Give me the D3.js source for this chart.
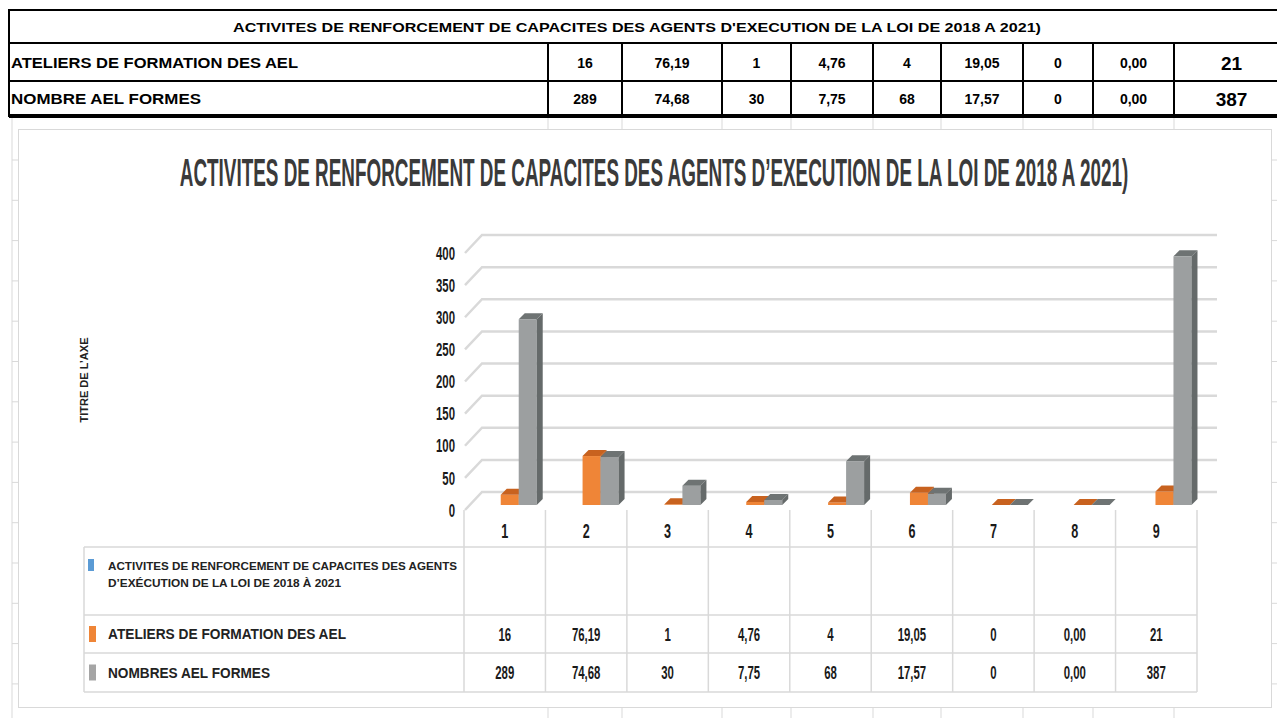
<!DOCTYPE html>
<html>
<head>
<meta charset="utf-8">
<script src="https://cdn.jsdelivr.net/npm/d3@7"></script>
<style>
  body { margin: 0; background: #fff; }
  svg { display: block; }
</style>
</head>
<body>
<div id="chart"></div>
<script>
// ---- data ----
const categories = ["1", "2", "3", "4", "5", "6", "7", "8", "9"];
const ateliers = [16, 76.19, 1, 4.76, 4, 19.05, 0, 0, 21];
const formes = [289, 74.68, 30, 7.75, 68, 17.57, 0, 0, 387];
const yTicks = [0, 50, 100, 150, 200, 250, 300, 350, 400];
const tableTitle = "ACTIVITES DE RENFORCEMENT DE CAPACITES DES AGENTS D'EXECUTION DE LA LOI DE 2018 A 2021)";
const chartTitle = "ACTIVITES DE RENFORCEMENT DE CAPACITES DES AGENTS D\u2019EXECUTION DE LA LOI DE 2018 A 2021)";
const tableRowLabels = ["ATELIERS DE FORMATION DES AEL", "NOMBRE AEL FORMES"];
const legendLabels = [
  ["ACTIVITES DE RENFORCEMENT DE CAPACITES DES AGENTS", "D\u2019EX\u00c9CUTION DE LA LOI DE 2018 \u00c0 2021"],
  ["ATELIERS DE FORMATION DES AEL"],
  ["NOMBRES AEL FORMES"]
];
const axisTitle = "TITRE DE L\u2019AXE";

// format like the sheet: counts as integers, percentages with 2 decimals
const fmt = (v, i) => i % 2 ? v.toFixed(2).replace(".", ",") : String(v);

const W = 1277, H = 718;
const svg = d3.select("#chart").append("svg").attr("width", W).attr("height", H);
const grid = "#d9d9d9";
const narrow = "'Liberation Sans', Arial, sans-serif";

// ---- spreadsheet background ----
const sheetCols = [548, 622, 722, 791, 873, 941, 1023, 1093, 1174];
sheetCols.forEach(x => {
  svg.append("line").attr("x1", x).attr("x2", x).attr("y1", 117).attr("y2", 129).attr("stroke", grid);
  svg.append("line").attr("x1", x).attr("x2", x).attr("y1", 708).attr("y2", H).attr("stroke", grid);
});
svg.append("line").attr("x1", 12).attr("x2", 12).attr("y1", 117).attr("y2", H).attr("stroke", grid);
d3.range(160, H, 40.3).forEach(y => {
  svg.append("line").attr("x1", 12).attr("x2", 18).attr("y1", y).attr("y2", y).attr("stroke", grid);
  svg.append("line").attr("x1", 1272).attr("x2", W).attr("y1", y).attr("y2", y).attr("stroke", grid);
});

// chart frame
svg.append("rect").attr("x", 18.5).attr("y", 129.5).attr("width", 1253).attr("height", 578)
  .attr("fill", "#fff").attr("stroke", grid);

// ---- top table ----
const topTable = svg.append("g");
topTable.append("rect").attr("x", 9).attr("y", 10).attr("width", 1280).attr("height", 106)
  .attr("fill", "none").attr("stroke", "#000").attr("stroke-width", 2);
topTable.append("line").attr("x1", 9).attr("x2", W).attr("y1", 43).attr("y2", 43).attr("stroke", "#000").attr("stroke-width", 2);
topTable.append("line").attr("x1", 9).attr("x2", W).attr("y1", 81).attr("y2", 81).attr("stroke", "#000").attr("stroke-width", 2);
topTable.append("line").attr("x1", 9).attr("x2", W).attr("y1", 116).attr("y2", 116).attr("stroke", "#000").attr("stroke-width", 4);
sheetCols.forEach(x => {
  topTable.append("line").attr("x1", x).attr("x2", x).attr("y1", 43).attr("y2", 116).attr("stroke", "#000").attr("stroke-width", 2);
});
topTable.append("text").attr("x", 637).attr("y", 27).attr("text-anchor", "middle").attr("dominant-baseline", "central")
  .attr("font-family", narrow).attr("font-weight", "bold").attr("font-size", 13)
  .attr("textLength", 808).attr("lengthAdjust", "spacingAndGlyphs").text(tableTitle);

const colEdges = sheetCols.concat([1277]);
[ateliers, formes].forEach((row, r) => {
  const cy = r === 0 ? 63 : 99;
  topTable.append("text").attr("x", 11).attr("y", cy).attr("dominant-baseline", "central")
    .attr("font-family", narrow).attr("font-weight", "bold").attr("font-size", 14)
    .attr("textLength", r === 0 ? 287 : 190).attr("lengthAdjust", "spacingAndGlyphs")
    .text(tableRowLabels[r]);
  row.forEach((v, i) => {
    const last = i === row.length - 1;
    const cx = (colEdges[i] + colEdges[i + 1]) / 2 + (last ? 6 : 0);
    topTable.append("text").attr("x", cx).attr("y", cy).attr("text-anchor", "middle").attr("dominant-baseline", "central")
      .attr("font-family", narrow).attr("font-weight", "bold").attr("font-size", last ? 19 : 14)
      .text(fmt(v, i));
  });
});

// ---- chart title (tall, condensed) ----
svg.append("text").attr("transform", "translate(654,173) scale(0.497,1)").attr("text-anchor", "middle")
  .attr("dominant-baseline", "central")
  .attr("font-family", narrow).attr("font-weight", "bold").attr("font-size", 38).attr("fill", "#3a3a3a")
  .text(chartTitle);

svg.append("text").attr("transform", "translate(84,380) rotate(-90)").attr("text-anchor", "middle")
  .attr("dominant-baseline", "central").attr("font-family", narrow).attr("font-weight", "bold")
  .attr("font-size", 11).attr("fill", "#222").text(axisTitle);

// ---- 3D column area ----
const x = d3.scaleBand().domain(categories).range([464, 1197]);
const h = d3.scaleLinear().domain([0, 400]).range([0, 257]);
const backBase = 492, frontBase = 510, barBase = 505;
const dx = 17;

// gridlines on back wall with the slanted side wall edge
const g = svg.append("g");
g.selectAll("path.grid").data(yTicks).enter().append("path")
  .attr("d", v => `M465,${frontBase - h(v)} L${465 + dx},${backBase - h(v)} L1217,${backBase - h(v)}`)
  .attr("fill", "none").attr("stroke", "#d9d9d9").attr("stroke-width", 2.5);

// condensed number labels
function narrowText(sel, tx, ty, txt, size, anchor) {
  sel.append("text").attr("transform", `translate(${tx},${ty}) scale(0.6,1)`)
    .attr("text-anchor", anchor).attr("dominant-baseline", "central")
    .attr("font-family", narrow).attr("font-weight", "bold").attr("font-size", size)
    .attr("fill", "#1a1a1a").text(txt);
}
yTicks.forEach(v => narrowText(g, 455, frontBase - h(v), String(v), 19, "end"));

// bars
const barW = 18, depth = 6;
const series = [
  { values: ateliers, front: "#ef8537", top: "#c8621f", side: "#b75a1c" },
  { values: formes, front: "#9c9fa0", top: "#6e7373", side: "#656a6a" }
];
const bars = svg.append("g");
series.forEach((s, si) => {
  bars.selectAll(null).data(s.values).enter().append("g").each(function (v, i) {
    const shift = 14 + i * 0.4;  // slight perspective drift to the right
    const x0 = x(categories[i]) + x.bandwidth() / 2 + shift - barW + si * barW;
    const y1 = barBase - h(v);
    const gg = d3.select(this);
    gg.append("rect").attr("x", x0).attr("y", y1).attr("width", barW).attr("height", barBase - y1).attr("fill", s.front);
    gg.append("path").attr("d", `M${x0},${y1} L${x0 + depth},${y1 - depth} L${x0 + barW + depth},${y1 - depth} L${x0 + barW},${y1} Z`).attr("fill", s.top);
    gg.append("path").attr("d", `M${x0 + barW},${y1} L${x0 + barW + depth},${y1 - depth} L${x0 + barW + depth},${barBase - depth} L${x0 + barW},${barBase} Z`).attr("fill", s.side);
  });
});

// ---- data table under the axis ----
const t = svg.append("g");
const tableTop = 547, rowYs = [615, 653, 692];
const edges = categories.map(c => x(c)).concat([x.range()[1]]);
edges.forEach(e => t.append("line").attr("x1", e).attr("x2", e).attr("y1", frontBase).attr("y2", 692).attr("stroke", grid).attr("stroke-width", 1.5));
t.append("line").attr("x1", 84).attr("x2", 84).attr("y1", tableTop).attr("y2", 692).attr("stroke", grid).attr("stroke-width", 1.5);
[tableTop].concat(rowYs).forEach(y => t.append("line").attr("x1", 84).attr("x2", edges[edges.length - 1]).attr("y1", y).attr("y2", y).attr("stroke", grid).attr("stroke-width", 1.5));

categories.forEach(c => narrowText(t, x(c) + x.bandwidth() / 2, 531, c, 21, "middle"));

const legendColors = ["#5b9bd5", "#ef8537", "#a5a5a5"];
t.append("rect").attr("x", 88).attr("y", 559).attr("width", 6).attr("height", 12).attr("fill", legendColors[0]);
legendLabels[0].forEach((line, k) => t.append("text").attr("x", 108).attr("y", 566 + k * 17).attr("dominant-baseline", "central")
  .attr("font-family", narrow).attr("font-weight", "bold").attr("font-size", 11.5).attr("fill", "#222")
  .attr("textLength", k === 0 ? 349 : 233).attr("lengthAdjust", "spacingAndGlyphs").text(line));

[ateliers, formes].forEach((row, r) => {
  const cy = (rowYs[r] + rowYs[r + 1]) / 2;
  t.append("rect").attr("x", 89).attr("y", cy - 8).attr("width", 7).attr("height", 16).attr("fill", legendColors[r + 1]);
  t.append("text").attr("x", 108).attr("y", cy).attr("dominant-baseline", "central")
    .attr("font-family", narrow).attr("font-weight", "bold").attr("font-size", 14.5).attr("fill", "#222")
    .attr("textLength", r === 0 ? 238 : 162).attr("lengthAdjust", "spacingAndGlyphs").text(legendLabels[r + 1][0]);
  row.forEach((v, i) => narrowText(t, x(categories[i]) + x.bandwidth() / 2, cy, fmt(v, i), 19, "middle"));
});
</script>
</body>
</html>
